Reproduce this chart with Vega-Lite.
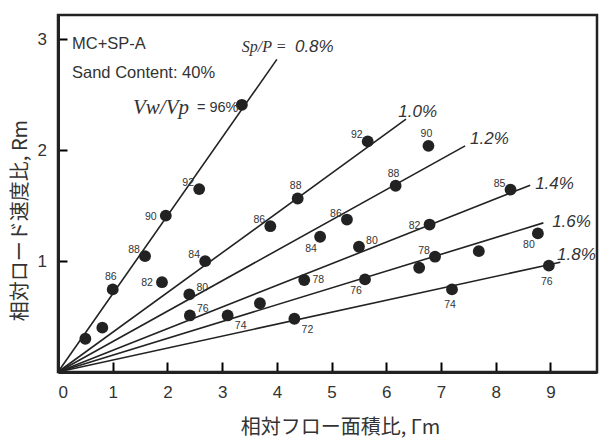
{
  "$schema": "https://vega.github.io/schema/vega-lite/v6.json",
  "autosize": {"type": "none"},
  "width": 539,
  "height": 357,
  "padding": {"left": 58, "top": 15, "right": 2, "bottom": 66},
  "background": "white",
  "config": {
    "view": {"stroke": "#222", "strokeWidth": 2.5},
    "axis": {"grid": false, "zindex": 1, "domainColor": "#222", "domainWidth": 3,
      "labelFont": "Liberation Sans", "labelFontSize": 17, "labelColor": "#333",
      "titleFont": "Noto Sans CJK JP", "titleFontSize": 20, "titleFontWeight": "normal", "titleColor": "#333"},
    "text": {"font": "Liberation Sans", "color": "#333"}
  },
  "datasets": {
    "lines": [
      {"series": "0.8", "x": 0, "y": 0}, {"series": "0.8", "x": 4.0, "y": 2.82},
      {"series": "1.0", "x": 0, "y": 0}, {"series": "1.0", "x": 6.36, "y": 2.28},
      {"series": "1.2", "x": 0, "y": 0}, {"series": "1.2", "x": 7.44, "y": 2.04},
      {"series": "1.4", "x": 0, "y": 0}, {"series": "1.4", "x": 8.63, "y": 1.685},
      {"series": "1.6", "x": 0, "y": 0}, {"series": "1.6", "x": 8.87, "y": 1.345},
      {"series": "1.8", "x": 0, "y": 0}, {"series": "1.8", "x": 9.18, "y": 0.99}
    ],
    "points": [
      {"series": "0.8", "x": 0.50, "y": 0.30, "label": "", "side": "none"},
      {"series": "0.8", "x": 0.81, "y": 0.40, "label": "", "side": "none"},
      {"series": "0.8", "x": 1.00, "y": 0.745, "label": "86", "side": "U"},
      {"series": "0.8", "x": 1.59, "y": 1.045, "label": "88", "side": "UL"},
      {"series": "0.8", "x": 1.97, "y": 1.41, "label": "90", "side": "L"},
      {"series": "0.8", "x": 2.58, "y": 1.65, "label": "92", "side": "UL"},
      {"series": "0.8", "x": 3.36, "y": 2.41, "label": "", "side": "none"},
      {"series": "1.0", "x": 1.90, "y": 0.81, "label": "82", "side": "L"},
      {"series": "1.0", "x": 2.69, "y": 1.00, "label": "84", "side": "UL"},
      {"series": "1.0", "x": 3.88, "y": 1.315, "label": "86", "side": "UL"},
      {"series": "1.0", "x": 4.38, "y": 1.565, "label": "88", "side": "U"},
      {"series": "1.0", "x": 5.66, "y": 2.08, "label": "92", "side": "UL"},
      {"series": "1.0", "x": 6.77, "y": 2.04, "label": "90", "side": "U"},
      {"series": "1.2", "x": 2.40, "y": 0.70, "label": "80", "side": "UR"},
      {"series": "1.2", "x": 4.79, "y": 1.22, "label": "84", "side": "DL"},
      {"series": "1.2", "x": 5.28, "y": 1.375, "label": "86", "side": "UL"},
      {"series": "1.2", "x": 6.17, "y": 1.68, "label": "88", "side": "U"},
      {"series": "1.4", "x": 2.41, "y": 0.51, "label": "76", "side": "UR"},
      {"series": "1.4", "x": 4.50, "y": 0.83, "label": "78", "side": "R"},
      {"series": "1.4", "x": 5.50, "y": 1.13, "label": "80", "side": "UR"},
      {"series": "1.4", "x": 6.79, "y": 1.33, "label": "82", "side": "L"},
      {"series": "1.4", "x": 8.27, "y": 1.645, "label": "85", "side": "UL"},
      {"series": "1.6", "x": 3.10, "y": 0.51, "label": "74", "side": "DR"},
      {"series": "1.6", "x": 3.69, "y": 0.62, "label": "", "side": "none"},
      {"series": "1.6", "x": 5.61, "y": 0.835, "label": "76", "side": "DL"},
      {"series": "1.6", "x": 6.60, "y": 0.94, "label": "", "side": "none"},
      {"series": "1.6", "x": 6.89, "y": 1.04, "label": "78", "side": "UL"},
      {"series": "1.6", "x": 7.69, "y": 1.09, "label": "", "side": "none"},
      {"series": "1.6", "x": 8.77, "y": 1.25, "label": "80", "side": "DL"},
      {"series": "1.8", "x": 4.32, "y": 0.48, "label": "72", "side": "DR"},
      {"series": "1.8", "x": 7.20, "y": 0.745, "label": "74", "side": "D"},
      {"series": "1.8", "x": 8.97, "y": 0.96, "label": "76", "side": "D"}
    ],
    "pct": [
      {"x": 4.33, "y": 2.93, "text": "0.8%"},
      {"x": 6.22, "y": 2.345, "text": "1.0%"},
      {"x": 7.53, "y": 2.10, "text": "1.2%"},
      {"x": 8.72, "y": 1.70, "text": "1.4%"},
      {"x": 9.03, "y": 1.354, "text": "1.6%"},
      {"x": 9.12, "y": 1.054, "text": "1.8%"}
    ],
    "spp": [{"x": 3.36, "y": 2.93, "text": "Sp/P ="}],
    "vwvp": [{"x": 1.37, "y": 2.38, "text": "Vw/Vp"}],
    "eq96": [{"x": 2.54, "y": 2.38, "text": "= 96%"}],
    "sans": [
      {"x": 0.256, "y": 2.96, "text": "MC+SP-A"},
      {"x": 0.256, "y": 2.70, "text": "Sand Content: 40%"}
    ]
  },
  "encoding": {
    "x": {"field": "x", "type": "quantitative", "scale": {"domain": [0, 9.85], "nice": false, "zero": false},
      "axis": {"values": [0, 1, 2, 3, 4, 5, 6, 7, 8, 9], "ticks": true, "tickSize": -10, "tickColor": "black", "tickWidth": 2, "tickOpacity": 1,
        "labelPadding": 22,
        "title": "相対フロー面積比, Γm", "titleX": 282, "titleY": 55, "titleBaseline": "middle", "titleAlign": "center"}},
    "y": {"field": "y", "type": "quantitative", "scale": {"domain": [0, 3.22], "nice": false, "zero": false},
      "axis": {"values": [1, 2, 3], "ticks": true, "tickSize": -9, "tickColor": "black", "tickWidth": 2, "tickOpacity": 1, "labelPadding": 20.5,
        "title": "相対ロード速度比, Rm", "titleX": -38, "titleY": 205, "titleBaseline": "middle", "titleAlign": "center", "titleAngle": -90}}
  },
  "layer": [
    {"data": {"name": "lines"}, "mark": {"type": "line", "color": "#222", "strokeWidth": 1.6},
      "encoding": {"detail": {"field": "series"}}},
    {"data": {"name": "points"}, "mark": {"type": "circle", "color": "#222", "opacity": 1, "size": 140}},
    {"data": {"name": "points"}, "transform": [{"filter": "datum.side == 'L'"}],
      "mark": {"type": "text", "fontSize": 10.5, "dx": -15, "dy": 1}, "encoding": {"text": {"field": "label"}}},
    {"data": {"name": "points"}, "transform": [{"filter": "datum.side == 'UL'"}],
      "mark": {"type": "text", "fontSize": 10.5, "dx": -11, "dy": -6}, "encoding": {"text": {"field": "label"}}},
    {"data": {"name": "points"}, "transform": [{"filter": "datum.side == 'U'"}],
      "mark": {"type": "text", "fontSize": 10.5, "dx": -2, "dy": -12}, "encoding": {"text": {"field": "label"}}},
    {"data": {"name": "points"}, "transform": [{"filter": "datum.side == 'DL'"}],
      "mark": {"type": "text", "fontSize": 10.5, "dx": -9, "dy": 12}, "encoding": {"text": {"field": "label"}}},
    {"data": {"name": "points"}, "transform": [{"filter": "datum.side == 'UR'"}],
      "mark": {"type": "text", "fontSize": 10.5, "dx": 13, "dy": -6}, "encoding": {"text": {"field": "label"}}},
    {"data": {"name": "points"}, "transform": [{"filter": "datum.side == 'R'"}],
      "mark": {"type": "text", "fontSize": 10.5, "dx": 14, "dy": 0}, "encoding": {"text": {"field": "label"}}},
    {"data": {"name": "points"}, "transform": [{"filter": "datum.side == 'DR'"}],
      "mark": {"type": "text", "fontSize": 10.5, "dx": 13, "dy": 11}, "encoding": {"text": {"field": "label"}}},
    {"data": {"name": "points"}, "transform": [{"filter": "datum.side == 'D'"}],
      "mark": {"type": "text", "fontSize": 10.5, "dx": -2, "dy": 16}, "encoding": {"text": {"field": "label"}}},
    {"data": {"name": "pct"}, "mark": {"type": "text", "fontSize": 17, "fontStyle": "italic", "align": "left", "baseline": "middle", "color": "#333"},
      "encoding": {"text": {"field": "text"}}},
    {"data": {"name": "spp"}, "mark": {"type": "text", "font": "Liberation Serif", "fontSize": 16, "fontStyle": "italic", "align": "left", "baseline": "middle", "color": "#333"},
      "encoding": {"text": {"field": "text"}}},
    {"data": {"name": "vwvp"}, "mark": {"type": "text", "font": "Liberation Serif", "fontSize": 21, "fontStyle": "italic", "align": "left", "baseline": "middle", "color": "#333"},
      "encoding": {"text": {"field": "text"}}},
    {"data": {"name": "eq96"}, "mark": {"type": "text", "fontSize": 14.5, "align": "left", "baseline": "middle", "color": "#333"},
      "encoding": {"text": {"field": "text"}}},
    {"data": {"name": "sans"}, "mark": {"type": "text", "fontSize": 16.5, "align": "left", "baseline": "middle", "color": "#333"},
      "encoding": {"text": {"field": "text"}}}
  ]
}
